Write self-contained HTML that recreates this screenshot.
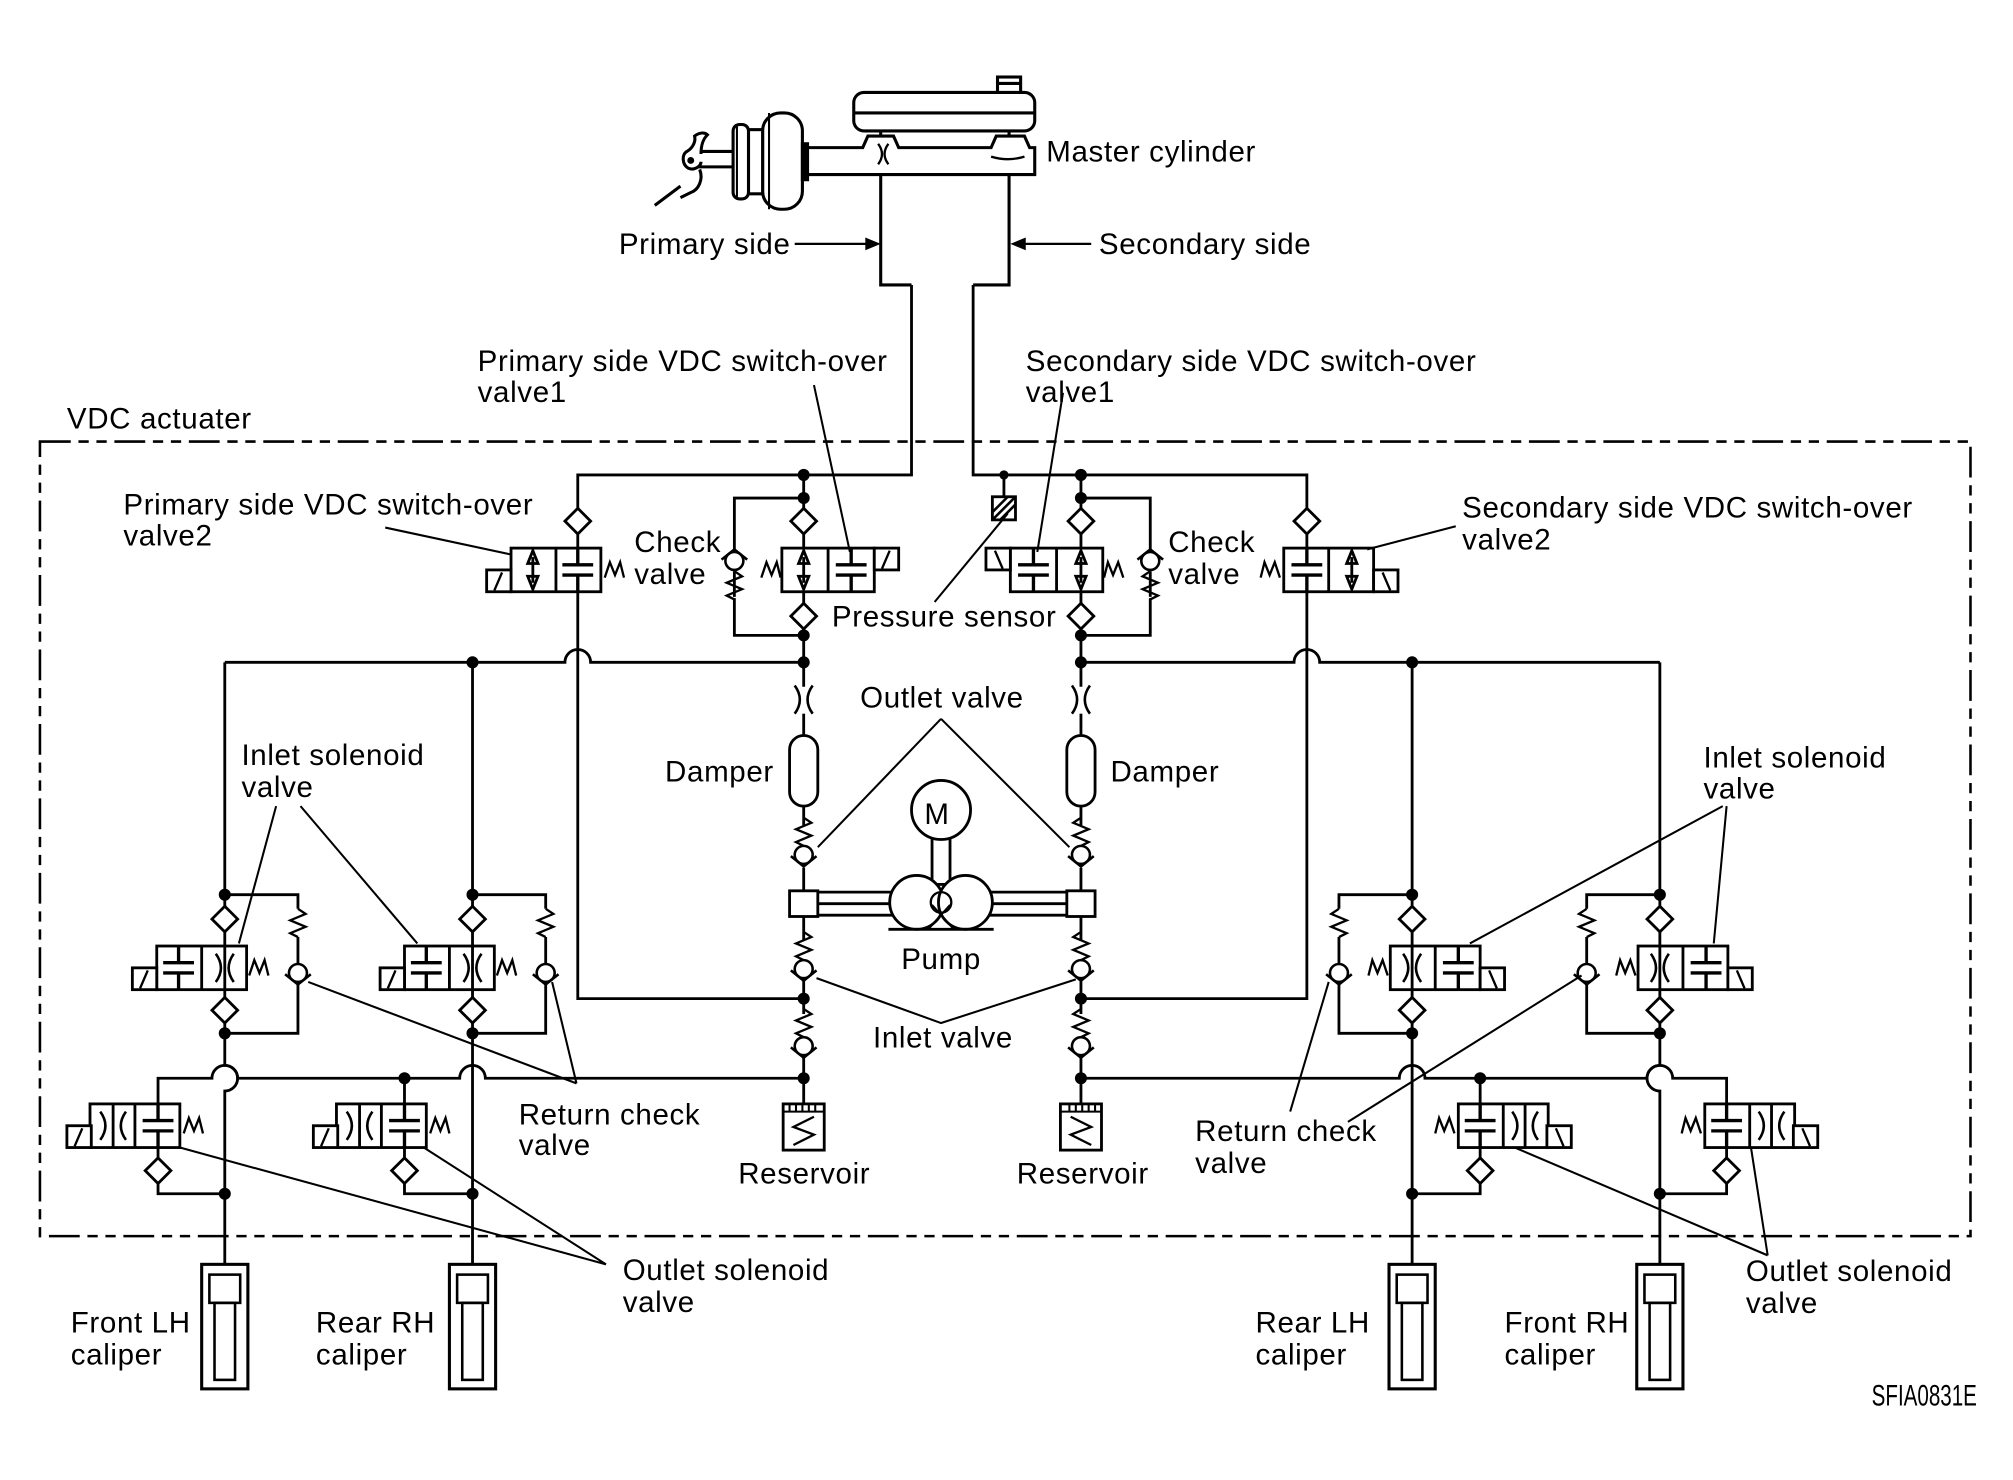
<!DOCTYPE html>
<html><head><meta charset="utf-8"><style>
html,body{margin:0;padding:0;background:#fff;}
svg{display:block}
text{font-family:"Liberation Sans",Arial,sans-serif;font-size:23px;letter-spacing:0.5px;fill:#000}
</style></head><body>
<svg width="2013" height="1480" viewBox="0 0 1568 1153" xmlns="http://www.w3.org/2000/svg">
<defs>
<polygon id="dia" points="0,-10 10,0 0,10 -10,0" fill="#fff" stroke="#000" stroke-width="2.2"/>
<circle id="nd" r="3.6" fill="#000"/>
<path id="cap" d="M0,-17V-4M-12,-4H12M-12,4H12M0,4V17" fill="none" stroke="#000" stroke-width="2.6"/>
<path id="orf" d="M-7,-11Q1,0 -7,11M7,-11Q-1,0 7,11" fill="none" stroke="#000" stroke-width="2"/>
<path id="spr" d="M-7,6L-3,-6L1,4L5,-6L8,6" fill="none" stroke="#000" stroke-width="1.8"/>
<g id="dar"><path d="M0,-10V10" stroke="#000" stroke-width="2.2"/><polygon points="0,-15 -4,-5 4,-5"/><polygon points="0,15 -4,5 4,5"/></g>
<path id="vspr" d="M0,-11L6,-7L-6,-2L6,3L-6,8L0,11" fill="none" stroke="#000" stroke-width="1.8"/>
<g id="ckU"><circle r="7" fill="#fff" stroke="#000" stroke-width="2"/><path d="M-10,-1L0,-9L10,-1" fill="none" stroke="#000" stroke-width="2"/></g>
<g id="ckD"><circle r="7" fill="#fff" stroke="#000" stroke-width="2"/><path d="M-10,1L0,9L10,1" fill="none" stroke="#000" stroke-width="2"/></g>
<g id="sol"><rect x="0" y="0" width="19" height="17" fill="#fff" stroke="#000" stroke-width="2.2"/><path d="M6,16L12,2" stroke="#000" stroke-width="1.8"/></g>
<g id="cal"><rect x="-18" y="0" width="36" height="97" fill="#fff" stroke="#000" stroke-width="2.4"/><rect x="-12" y="8" width="24" height="22" fill="none" stroke="#000" stroke-width="2"/><rect x="-8" y="30" width="16" height="60" fill="none" stroke="#000" stroke-width="2"/></g>
<g id="res"><rect x="-16" y="0" width="32" height="36" fill="#fff" stroke="#000" stroke-width="2.2"/><path d="M-16,6H16M-11,0V6M-6,0V6M-1,0V6M4,0V6M9,0V6" stroke="#000" stroke-width="1.6"/><path d="M8,10L-8,18L8,24L-8,32" fill="none" stroke="#000" stroke-width="1.8"/></g>
</defs>

<g fill="none" stroke="#000" stroke-width="2.2">
<rect x="31" y="344" width="1504" height="619" stroke-dasharray="24 6 8 6 8 6" stroke-width="2"/>
</g>

<g id="half" stroke="#000" stroke-width="2.2" fill="none">
 <path d="M710,222V370H450V396M450,416V427M450,461V778H626"/>
 <path d="M175,516H440A10,10 0 0 1 460,516H626"/>
 <path d="M626,370V396M626,416V427M626,461V470M626,490V535M626,388H572V428M572,445V465M572,466V495H626"/>
 <use href="#vspr" x="572" y="456"/>
 <use href="#ckU" x="572" y="437"/>
 <use href="#dia" x="626" y="406"/><use href="#dia" x="626" y="480"/>
 <rect x="609" y="427" width="72" height="34" fill="#fff"/>
 <path d="M645,427V461"/>
 <use href="#dar" x="626" y="444"/>
 <use href="#cap" x="663" y="444"/>
 <use href="#sol" x="681" y="427"/>
 <use href="#spr" x="600" y="444"/>
 <use href="#nd" x="626" y="370"/><use href="#nd" x="626" y="388"/><use href="#nd" x="626" y="495"/><use href="#nd" x="626" y="516"/>
 <use href="#dia" x="450" y="406"/>
 <rect x="398" y="427" width="70" height="34" fill="#fff"/>
 <path d="M433,427V461"/>
 <use href="#dar" x="415" y="444"/>
 <use href="#cap" x="450" y="444"/>
 <use href="#sol" x="379" y="444"/>
 <use href="#spr" x="478" y="444"/>
 <use href="#orf" x="626" y="545"/>
 <path d="M626,556V573"/>
 <rect x="615" y="573" width="22" height="55" rx="11" fill="#fff"/>
 <path d="M626,628V643M626,676V694M626,714V733M626,764V790M626,823V860"/>
 <use href="#vspr" x="626" y="648"/><use href="#ckD" x="626" y="666"/>
 <use href="#vspr" x="626" y="737"/><use href="#ckD" x="626" y="755"/>
 <use href="#vspr" x="626" y="797"/><use href="#ckD" x="626" y="815"/>
 <use href="#nd" x="626" y="778"/><use href="#nd" x="626" y="840"/>
 <rect x="615" y="694" width="22" height="20" fill="#fff"/>
 <path d="M637,695H734M637,704H734M637,713H734"/>
 <use href="#res" x="626" y="860"/>
 <path d="M175,516V706M175,726V737M175,771V777M175,797V830A10,10 0 0 1 175,850V985"/>
 <path d="M175,697H232V708M232,730V751M232,766V805H175"/>
 <use href="#vspr" x="232" y="719"/><use href="#ckD" x="232" y="758"/>
 <use href="#dia" x="175" y="716"/><use href="#dia" x="175" y="787"/>
 <rect x="122" y="737" width="70" height="34" fill="#fff"/>
 <path d="M157,737V771M175,737V771"/>
 <use href="#cap" x="139" y="754"/><use href="#orf" x="175" y="754"/>
 <use href="#sol" x="103" y="754"/><use href="#spr" x="201" y="754"/>
 <use href="#nd" x="175" y="697"/><use href="#nd" x="175" y="805"/><use href="#nd" x="175" y="930"/>
 <path d="M368,516V706M368,726V737M368,771V777M368,797V985"/>
 <path d="M368,697H425V708M425,730V751M425,766V805H368"/>
 <use href="#vspr" x="425" y="719"/><use href="#ckD" x="425" y="758"/>
 <use href="#dia" x="368" y="716"/><use href="#dia" x="368" y="787"/>
 <rect x="315" y="737" width="70" height="34" fill="#fff"/>
 <path d="M350,737V771M368,737V771"/>
 <use href="#cap" x="332" y="754"/><use href="#orf" x="368" y="754"/>
 <use href="#sol" x="296" y="754"/><use href="#spr" x="394" y="754"/>
 <use href="#nd" x="368" y="516"/><use href="#nd" x="368" y="697"/><use href="#nd" x="368" y="805"/><use href="#nd" x="368" y="930"/>
 <path d="M123,860V840H165A10,10 0 0 1 185,840H358A10,10 0 0 1 378,840H626"/>
 <use href="#nd" x="315" y="840"/>
 <path d="M123,894V902M123,922V930H175M315,840V860M315,894V902M315,922V930H368"/>
 <rect x="70" y="860" width="70" height="34" fill="#fff"/>
 <path d="M88,860V894M105,860V894"/>
 <path d="M78,866Q86,877 78,888M98,866Q90,877 98,888" stroke-width="2"/>
 <use href="#cap" x="123" y="877"/>
 <use href="#sol" x="52" y="877"/><use href="#spr" x="150" y="877"/>
 <use href="#dia" x="123" y="912"/>
 <rect x="262" y="860" width="70" height="34" fill="#fff"/>
 <path d="M280,860V894M297,860V894"/>
 <path d="M270,866Q278,877 270,888M290,866Q282,877 290,888" stroke-width="2"/>
 <use href="#cap" x="315" y="877"/>
 <use href="#sol" x="244" y="877"/><use href="#spr" x="342" y="877"/>
 <use href="#dia" x="315" y="912"/>
 <use href="#cal" x="175" y="985"/><use href="#cal" x="368" y="985"/>
</g>
<use href="#half" transform="translate(1468,0) scale(-1,1)"/>

<g stroke="#000" stroke-width="2.4" fill="none">
 <path d="M686,100V222H710M786,100V222H758"/>
 <rect x="665" y="72" width="141" height="30" rx="8" fill="#fff"/>
 <path d="M666,88H805"/>
 <rect x="777" y="60" width="18" height="12" fill="#fff"/>
 <path d="M777,65H795"/>
 <path d="M628,115H672L676,106H696L700,115H772L776,106H798L802,115H806V136H628Z" fill="#fff"/>
 <path d="M684,112Q690,120 684,128M692,112Q686,120 692,128M772,122Q785,126 798,122" stroke-width="1.8"/>
 <rect x="594" y="88" width="31" height="75" rx="14" fill="#fff"/>
 <path d="M599,88V163" stroke-width="1.6"/>
 <rect x="625" y="112" width="4" height="28" fill="#000"/>
 <rect x="583" y="101" width="11" height="50" fill="#fff"/>
 <rect x="571" y="97" width="12" height="58" rx="5" fill="#fff"/>
 <path d="M574,97V155" stroke-width="1.6"/>
 <path d="M540,118H571M540,130H571"/>
 <path d="M546,120C546,112 548,108 551,105C549,103 545,103 541,106C542,110 540,115 535,118C531,120 531,128 536,131C540,133 546,130 546,126" fill="#fff"/>
 <circle cx="538" cy="125" r="1.5" fill="#000"/>
 <path d="M545,132C548,140 544,148 538,150L530,154M510,160L530,145"/>
</g>

<g stroke="#000" stroke-width="1.8">
 <path d="M619,190H676M850,190H797"/>
</g>
<polygon points="686,190 674,185 674,195"/>
<polygon points="787,190 799,185 799,195"/>

<g stroke="#000" stroke-width="2.2">
 <path d="M782,370V387"/>
 <rect x="773" y="387" width="18" height="18" fill="#fff"/>
 <path d="M773,399L785,387M773,405L791,387M779,405L791,393" stroke-width="2"/>
</g>
<circle cx="782" cy="370" r="3.6"/>

<g stroke="#000" stroke-width="2.2" fill="#fff">
 <rect x="726" y="653" width="14" height="36"/>
 <circle cx="733" cy="631" r="23"/>
 <circle cx="714" cy="703" r="21"/>
 <circle cx="752" cy="703" r="21"/>
 <circle cx="733" cy="703" r="8" fill="none" stroke-width="1.8"/>
 <path d="M723,724L740,705M743,724L726,705" fill="none" stroke-width="1.6"/>
 <path d="M692,724H774" fill="none"/>
</g>
<text x="720" y="642" font-size="26" style="letter-spacing:0">M</text>

<g stroke="#000" stroke-width="1.6" fill="none">
 <path d="M634,300L662,430"/>
 <path d="M828,306L808,430"/>
 <path d="M300,411L398,432"/>
 <path d="M1134,410L1065,428"/>
 <path d="M728,469L785,400"/>
 <path d="M733,560L637,660M733,560L833,660"/>
 <path d="M636,762L733,797L838,763"/>
 <path d="M215,628L186,735M234,628L325,735"/>
 <path d="M1342,628L1145,735M1345,628L1335,735"/>
 <path d="M449,844L240,765M449,844L430,765"/>
 <path d="M1005,866L1035,765M1050,874L1232,760"/>
 <path d="M472,985L140,894M472,985L330,894"/>
 <path d="M1377,978L1180,894M1377,978L1364,894"/>
</g>

<text x="815" y="126">Master cylinder</text>
<text x="482" y="198">Primary side</text>
<text x="856" y="198">Secondary side</text>
<text x="372" y="289">Primary side VDC switch-over</text>
<text x="372" y="313">valve1</text>
<text x="799" y="289">Secondary side VDC switch-over</text>
<text x="799" y="313">valve1</text>
<text x="52" y="334">VDC actuater</text>
<text x="96" y="401">Primary side VDC switch-over</text>
<text x="96" y="425">valve2</text>
<text x="494" y="430">Check</text>
<text x="494" y="455">valve</text>
<text x="910" y="430">Check</text>
<text x="910" y="455">valve</text>
<text x="1139" y="403">Secondary side VDC switch-over</text>
<text x="1139" y="428">valve2</text>
<text x="648" y="488">Pressure sensor</text>
<text x="670" y="551">Outlet valve</text>
<text x="518" y="609">Damper</text>
<text x="865" y="609">Damper</text>
<text x="188" y="596">Inlet solenoid</text>
<text x="188" y="621">valve</text>
<text x="1327" y="598">Inlet solenoid</text>
<text x="1327" y="622">valve</text>
<text x="702" y="755">Pump</text>
<text x="680" y="816">Inlet valve</text>
<text x="404" y="876">Return check</text>
<text x="404" y="900">valve</text>
<text x="931" y="889">Return check</text>
<text x="931" y="914">valve</text>
<text x="575" y="922">Reservoir</text>
<text x="792" y="922">Reservoir</text>
<text x="485" y="997">Outlet solenoid</text>
<text x="485" y="1022">valve</text>
<text x="1360" y="998">Outlet solenoid</text>
<text x="1360" y="1023">valve</text>
<text x="55" y="1038">Front LH</text>
<text x="55" y="1063">caliper</text>
<text x="246" y="1038">Rear RH</text>
<text x="246" y="1063">caliper</text>
<text x="978" y="1038">Rear LH</text>
<text x="978" y="1063">caliper</text>
<text x="1172" y="1038">Front RH</text>
<text x="1172" y="1063">caliper</text>
<text x="1458" y="1095" font-size="13" textLength="82" lengthAdjust="spacingAndGlyphs" style="letter-spacing:0">SFIA0831E</text>
</svg>
</body></html>
